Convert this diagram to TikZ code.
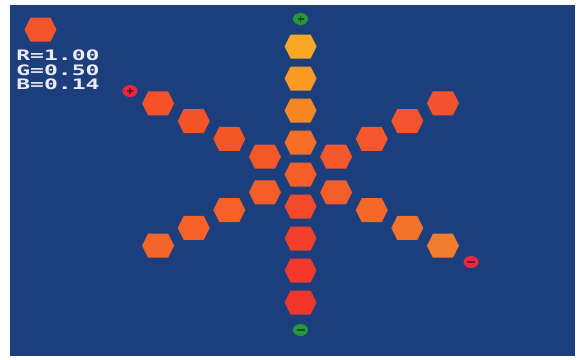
\documentclass[tikz,border=0pt]{standalone}
\usepackage{fontspec}
\newfontfamily\pixfont{DejaVu Sans Mono}
\usetikzlibrary{shapes.geometric}
\definecolor{bg}{RGB}{28,62,124}
\definecolor{txt}{RGB}{236,236,244}
\definecolor{mgreen}{RGB}{40,150,60}
\definecolor{mgreendk}{RGB}{20,80,40}
\definecolor{mred}{RGB}{235,40,60}
\definecolor{mreddk}{RGB}{120,20,40}
\newcommand{\hexcell}[3]{%
  \definecolor{hextmp}{RGB}{#3}%
  \fill[hextmp] (#1-16,#2) -- (#1-10,#2-12) -- (#1+10,#2-12) -- (#1+16,#2) -- (#1+10,#2+12) -- (#1-10,#2+12) -- cycle;}
\tikzset{
  marker/.style={ellipse, minimum width=15pt, minimum height=12pt, inner sep=0pt},
  lbl/.style={text=txt, font=\pixfont\bfseries\fontsize{14.4}{14.4}\selectfont, xscale=1.6, inner sep=0pt, anchor=west}
}
\begin{document}
\begin{tikzpicture}[x=1pt,y=-1pt]
\useasboundingbox (0,0) rectangle (581,359);
\fill[white] (0,0) rectangle (581,359);
\fill[bg] (10,5) rectangle (575,356);
% swatch
\hexcell{40.5}{29.5}{245,85,42}
% labels
\node[lbl] (r) at (16,55.3) {R=1.00};
\node[lbl] (g) at (16,70) {G=0.50};
\node[lbl] (b) at (16,84.7) {B=0.14};
% vertical column
\hexcell{300.5}{46.5}{249,168,37}
\hexcell{300.5}{78.5}{249,154,34}
\hexcell{300.5}{110.5}{248,134,35}
\hexcell{300.5}{142.5}{247,111,38}
\hexcell{300.5}{174.5}{246,94,40}
\hexcell{300.5}{206.5}{244,74,42}
\hexcell{300.5}{238.5}{243,64,43}
\hexcell{300.5}{270.5}{242,57,44}
\hexcell{300.5}{302.5}{240,53,45}
% upper-left diagonal
\hexcell{264.9}{156.7}{245,88,40}
\hexcell{229.3}{138.9}{245,86,40}
\hexcell{193.7}{121.1}{245,84,40}
\hexcell{158.1}{103.3}{245,82,40}
% upper-right diagonal
\hexcell{336.1}{156.7}{245,88,42}
\hexcell{371.7}{138.9}{245,86,44}
\hexcell{407.3}{121.1}{245,84,46}
\hexcell{442.9}{103.3}{245,82,48}
% lower-left diagonal
\hexcell{264.9}{192.3}{245,94,40}
\hexcell{229.3}{210.1}{245,96,40}
\hexcell{193.7}{227.9}{245,98,40}
\hexcell{158.1}{245.7}{245,100,40}
% lower-right diagonal
\hexcell{336.1}{192.3}{244,94,42}
\hexcell{371.7}{210.1}{244,104,42}
\hexcell{407.3}{227.9}{243,115,42}
\hexcell{442.9}{245.7}{241,125,44}
% markers
\node[marker, fill=mgreen] (gp) at (300.5,19) {};
\draw[mgreendk, line width=1.3pt] ([xshift=-3pt]gp.center) -- ([xshift=3pt]gp.center) ([yshift=-3pt]gp.center) -- ([yshift=3pt]gp.center);
\node[marker, fill=mgreen] (gm) at (300.5,330) {};
\draw[mgreendk, line width=1.3pt] ([xshift=-4pt]gm.center) -- ([xshift=4pt]gm.center);
\node[marker, fill=mred] (rp) at (130,91) {};
\draw[mreddk, line width=1.3pt] ([xshift=-3pt]rp.center) -- ([xshift=3pt]rp.center) ([yshift=-3pt]rp.center) -- ([yshift=3pt]rp.center);
\node[marker, fill=mred] (rm) at (471,262) {};
\draw[mreddk, line width=1.3pt] ([xshift=-4pt]rm.center) -- ([xshift=4pt]rm.center);
\end{tikzpicture}
\end{document}
